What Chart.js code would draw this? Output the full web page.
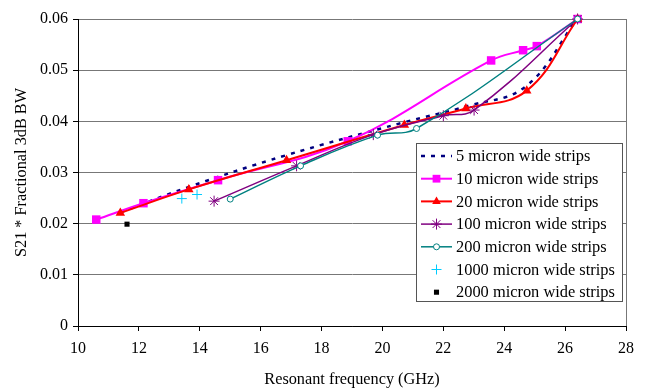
<!DOCTYPE html>
<html>
<head>
<meta charset="utf-8">
<script src="https://cdn.jsdelivr.net/npm/chart.js@4/dist/chart.umd.min.js"></script>
<style>
  html, body { margin: 0; padding: 0; background: #fff; }
  #wrap { width: 651px; height: 388px; position: relative; }
</style>
</head>
<body>
<div id="wrap"><canvas id="bwChart"></canvas></div>
<script>
// Data
const freq5 = [11.4, 13.6, 16.8, 20.7, 22.8, 24.7, 26.4];
const bw5 = [0.0222, 0.0271, 0.0333, 0.0398, 0.0430, 0.0468, 0.0600];

const freq10 = [10.6, 12.15, 14.6, 18.86, 23.57, 24.62, 25.07, 26.41];
const bw10 = [0.0208, 0.0240, 0.0285, 0.0361, 0.0519, 0.0539, 0.0547, 0.0600];

const freq20 = [11.39, 13.64, 16.85, 20.72, 22.74, 24.74, 26.41];
const bw20 = [0.0221, 0.0267, 0.0324, 0.0393, 0.0425, 0.0460, 0.0600];

const freq100 = [14.47, 17.18, 19.70, 22.0, 23.01, 26.41];
const bw100 = [0.0244, 0.0313, 0.0374, 0.0411, 0.0422, 0.0600];

const freq200 = [15.0, 17.31, 19.84, 21.12, 26.41];
const bw200 = [0.0248, 0.0313, 0.0373, 0.0386, 0.0600];

const freq1000 = [13.41, 13.91];
const bw1000 = [0.0249, 0.0257];

const freq2000 = [11.61];
const bw2000 = [0.0199];

const seriesLabels = [
  "5 micron wide strips",
  "10 micron wide strips",
  "20 micron wide strips",
  "100 micron wide strips",
  "200 micron wide strips",
  "1000 micron wide strips",
  "2000 micron wide strips"
];

const FONT = "'Liberation Serif', 'Times New Roman', serif";

function pts(xs, ys) {
  return xs.map((x, i) => ({ x: x, y: ys[i] }));
}

// Legend drawn inside the plot area, like the original
const boxLegend = {
  id: "boxLegend",
  afterDraw(chart) {
    const c = chart.ctx;
    const area = chart.chartArea;
    c.save();
    // right border of the plot area
    c.strokeStyle = "#777";
    c.lineWidth = 1;
    c.beginPath();
    c.moveTo(area.right + 0.5, area.top);
    c.lineTo(area.right + 0.5, area.bottom);
    c.stroke();

    const bx = 416.5, by = 143.5, bw = 206, bh = 158;
    c.fillStyle = "#fff";
    c.fillRect(bx, by, bw, bh);
    c.strokeStyle = "#555";
    c.strokeRect(bx, by, bw, bh);

    c.font = "16.4px " + FONT;
    c.textBaseline = "middle";
    chart.data.datasets.forEach((ds, i) => {
      const y = 156 + i * 22.7;
      if (ds.showLine) {
        c.save();
        c.strokeStyle = ds.borderColor;
        c.lineWidth = ds.borderWidth;
        c.setLineDash(ds.borderDash || []);
        c.beginPath();
        c.moveTo(421, y);
        c.lineTo(452, y);
        c.stroke();
        c.restore();
      }
      if (ds.pointRadius > 0 && Chart.helpers && Chart.helpers.drawPoint) {
        c.save();
        c.fillStyle = ds.pointBackgroundColor;
        c.strokeStyle = ds.pointBorderColor;
        c.lineWidth = ds.pointBorderWidth;
        Chart.helpers.drawPoint(c, {
          pointStyle: ds.pointStyle,
          radius: ds.legendRadius || ds.pointRadius,
          borderWidth: ds.pointBorderWidth,
          rotation: 0
        }, 436.5, y);
        c.restore();
      }
      c.fillStyle = "#000";
      c.fillText(ds.label, 456, y + 1);
    });
    c.restore();
  }
};

const ctx = document.getElementById("bwChart").getContext("2d");

new Chart(ctx, {
  type: "scatter",
  data: {
    datasets: [
      {
        label: seriesLabels[0],
        data: pts(freq5, bw5),
        showLine: true,
        borderColor: "#000080",
        borderWidth: 2.5,
        borderDash: [4, 6],
        tension: 0.4,
        pointRadius: 0,
        order: 7
      },
      {
        label: seriesLabels[1],
        data: pts(freq10, bw10),
        showLine: true,
        borderColor: "#ff00ff",
        borderWidth: 2,
        tension: 0.4,
        pointStyle: "rect",
        pointRadius: 6,
        legendRadius: 5.5,
        pointBackgroundColor: "#ff00ff",
        pointBorderColor: "#ff00ff",
        pointBorderWidth: 0,
        order: 6
      },
      {
        label: seriesLabels[2],
        data: pts(freq20, bw20),
        showLine: true,
        borderColor: "#ff0000",
        borderWidth: 2,
        tension: 0.4,
        pointStyle: "triangle",
        pointRadius: 5.5,
        legendRadius: 5,
        pointBackgroundColor: "#ff0000",
        pointBorderColor: "#ff0000",
        pointBorderWidth: 0,
        order: 5
      },
      {
        label: seriesLabels[3],
        data: pts(freq100, bw100),
        showLine: true,
        borderColor: "#800080",
        borderWidth: 1.5,
        tension: 0.4,
        pointStyle: "star",
        pointRadius: 5.5,
        pointBackgroundColor: "#800080",
        pointBorderColor: "#800080",
        pointBorderWidth: 1,
        order: 4
      },
      {
        label: seriesLabels[4],
        data: pts(freq200, bw200),
        showLine: true,
        borderColor: "#008080",
        borderWidth: 1.5,
        tension: 0.4,
        pointStyle: "circle",
        pointRadius: 3,
        pointBackgroundColor: "#ffffff",
        pointBorderColor: "#008080",
        pointBorderWidth: 1,
        order: 3
      },
      {
        label: seriesLabels[5],
        data: pts(freq1000, bw1000),
        showLine: false,
        pointStyle: "cross",
        pointRadius: 5,
        pointBackgroundColor: "#00ccff",
        pointBorderColor: "#00ccff",
        pointBorderWidth: 1,
        order: 2
      },
      {
        label: seriesLabels[6],
        data: pts(freq2000, bw2000),
        showLine: false,
        pointStyle: "rect",
        pointRadius: 3.6,
        pointBackgroundColor: "#000000",
        pointBorderColor: "#000000",
        pointBorderWidth: 0,
        order: 1
      }
    ]
  },
  options: {
    responsive: true,
    maintainAspectRatio: false,
    animation: false,
    clip: false,
    layout: { padding: { top: 19, right: 25, bottom: 0, left: 0 } },
    plugins: {
      legend: { display: false },
      tooltip: { enabled: false }
    },
    scales: {
      x: {
        type: "linear",
        min: 10,
        max: 28,
        ticks: {
          stepSize: 2,
          color: "#000",
          padding: 8,
          font: { family: FONT, size: 16 }
        },
        grid: {
          drawOnChartArea: false,
          drawTicks: true,
          tickLength: 5,
          color: "#000",
          tickColor: "#000"
        },
        border: { color: "#000", width: 1 },
        title: {
          display: true,
          text: "Resonant frequency (GHz)",
          color: "#000",
          font: { family: FONT, size: 16.3 },
          padding: { top: 0, bottom: -1.5 }
        },
        afterFit(scale) { scale.height = 62; }
      },
      y: {
        min: 0,
        max: 0.06,
        ticks: {
          stepSize: 0.01,
          color: "#000",
          padding: 5,
          font: { family: FONT, size: 16 },
          callback: (v) => (v === 0 ? "0" : v.toFixed(2))
        },
        grid: {
          color: (c) => (c.tick && c.tick.value === 0 ? "#000" : "#777"),
          tickColor: "#000",
          tickLength: 5
        },
        border: { color: "#000", width: 1 },
        title: {
          display: true,
          text: "S21 * Fractional 3dB BW",
          color: "#000",
          font: { family: FONT, size: 16.3 },
          padding: { top: 12, bottom: 0 }
        },
        afterFit(scale) { scale.width = 78; }
      }
    }
  },
  plugins: [boxLegend]
});
</script>
</body>
</html>
